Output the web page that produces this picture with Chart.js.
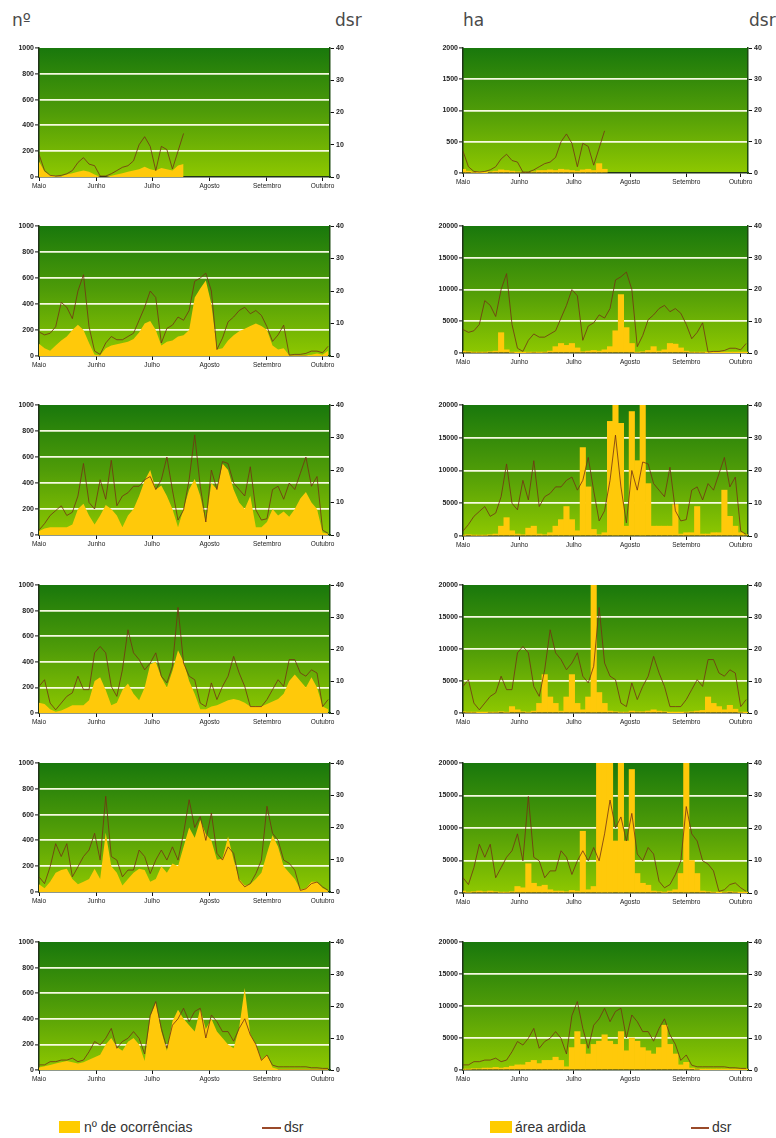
<!DOCTYPE html>
<html><head><meta charset="utf-8">
<script src="https://cdn.jsdelivr.net/npm/chart.js@4.4.1/dist/chart.umd.min.js"></script>
<style>
html,body{margin:0;padding:0;background:#fff}
body{width:776px;height:1138px;position:relative;overflow:hidden;font-family:'Liberation Sans',Arial,sans-serif}
.t{position:absolute;font-family:'DejaVu Sans',sans-serif;font-size:17px;line-height:17px;color:#4a4a4a}
.lg{position:absolute;font-size:14px;line-height:16px;color:#333;font-family:'Liberation Sans',Arial,sans-serif}
.sw{position:absolute;background:#ffcc00}
.ln{position:absolute;height:1.5px;background:#9a4a2a}
</style></head><body>
<div class="t" style="left:12px;top:12px">nº</div>
<div class="t" style="left:335px;top:12px">dsr</div>
<div class="t" style="left:463px;top:12px">ha</div>
<div class="t" style="left:749px;top:12px">dsr</div>

<div class="sw" style="left:59px;top:1121px;width:21px;height:12px"></div>
<div class="lg" style="left:84px;top:1119px">nº de ocorrências</div>
<div class="ln" style="left:262px;top:1127px;width:19px"></div>
<div class="lg" style="left:284px;top:1119px">dsr</div>
<div class="sw" style="left:490px;top:1121px;width:22px;height:12px"></div>
<div class="lg" style="left:515px;top:1119px">área ardida</div>
<div class="ln" style="left:691px;top:1127px;width:18px"></div>
<div class="lg" style="left:712px;top:1119px">dsr</div>

<script>
// ---------- data ----------
const days = [0,3,6,9,12,15,18,21,24,27,30,33,36,39,42,45,48,51,54,57,60,63,66,69,72,75,78,81,84,87,90,93,96,99,102,105,108,111,114,117,120,123,126,129,132,135,138,141,144,147,150,153,156];
const months = ['Maio','Junho','Julho','Agosto','Setembro','Outubro'];
const monthStart = [0,31,61,92,123,153];
const nTicks = [0,200,400,600,800,1000];
const haTicksSmall = [0,500,1000,1500,2000];
const haTicks = [0,5000,10000,15000,20000];
const dsrTicks = [0,10,20,30,40];

const dsr1 = [7,2,0.5,0.3,0.5,1,2,4.5,6,4,3.5,0.3,0.3,1,2,3,3.5,5,10,12.5,9.5,2,9.5,8.5,2.5,8,13.5];
const n1 = [120,40,15,5,5,20,30,40,50,40,20,0,0,10,20,30,40,50,60,80,60,50,70,60,50,90,100];
const ha1 = [60,30,10,5,5,20,30,50,40,30,20,0,0,20,40,40,50,40,60,50,40,30,50,60,40,150,60];

const dsr2 = [7.4,6.5,7,9,16.5,15,11.5,20,25,9,1.5,0.5,4,6,5,5,6,7,11,15,20,18,4,8.5,9.5,12,11,14,23,24,25.5,20,2,5.5,10.5,12,14,15,13,14,12.5,9,4.5,6.5,9.5,0.3,0.5,0.5,0.8,1.5,1.5,1,3];
const n2 = [95,60,40,80,120,150,200,240,200,100,10,5,60,80,90,100,110,130,180,250,270,200,80,110,120,150,160,200,450,520,580,400,50,60,120,160,190,210,230,250,230,200,80,50,60,5,5,5,5,10,20,10,40];
const ha2 = [300,200,100,100,100,200,300,3200,500,100,50,50,80,100,80,100,300,1000,1500,1200,1500,800,200,300,400,300,500,1000,3500,9200,4000,1500,100,200,400,1000,300,500,1500,1400,800,300,100,100,100,50,50,50,50,50,50,50,50];

const dsr3 = [1.5,3.5,6,7.5,9,6,7,12,22,10,8,17,11,23,9,12,13,15,15,17,18,14,17,24,13.8,4.6,7.7,17,30.8,15,4,20,14,22.6,22,16,14,12,21,7.7,4.6,5,14,15,11,16,14,19,24,15,18,1.5,0.5];
const n3 = [30,50,60,60,60,60,80,200,240,150,80,150,230,200,150,60,150,200,300,420,500,350,380,300,200,60,200,350,430,300,100,400,350,550,500,350,250,200,300,60,60,100,200,150,180,140,200,280,330,250,200,20,10];
const ha3 = [100,200,100,100,100,200,300,1500,2800,800,300,200,1200,1500,300,200,500,1500,2500,4500,2500,800,13500,7500,1000,200,500,17500,25000,17200,1500,19000,11500,25000,8000,1500,1500,1500,1500,4800,300,500,500,4500,300,300,500,500,7000,3000,1500,500,200];

const dsr4 = [8.3,10.4,3.1,1,3.1,5.2,6.3,11.5,7.3,7.3,18.8,20.8,18.8,8.3,5.2,13.5,26,18.8,16.7,13.5,15.6,18.8,11.5,9.4,14.6,33,15.6,11.5,10.4,3.1,2,9.4,4.2,8.3,11.5,17.7,12.5,8.3,2,2,2,4.2,7.3,10.4,8.3,16.7,16.7,12.5,11.5,13.5,12.5,2,4.2];
const n4 = [80,70,30,10,20,40,60,60,60,100,250,280,180,60,80,180,230,150,100,200,380,400,280,200,330,490,400,250,150,30,30,50,60,80,100,110,100,80,50,50,50,70,90,110,150,250,300,250,200,280,200,50,30];
const ha4 = [200,100,100,50,50,100,100,200,100,1000,500,200,100,300,1500,6000,2500,1500,300,2500,6000,1500,500,2500,25000,3200,1500,300,200,100,100,300,200,200,300,500,300,200,50,50,50,100,200,300,400,2500,1500,1000,500,1200,600,100,50];

const dsr5 = [4.7,2.6,7.8,15,11,15,4.7,7.8,11,13,18.2,9.9,29.7,11,9.9,4.7,6.8,6.8,13,11,5.7,9.9,13,9.9,14,9.9,18.2,28.6,20,23.4,16,24.5,12,9.9,14,12,3.6,1.6,2.6,5.7,9.9,26.6,18.2,16,9.9,8.9,6.8,0.5,1,2.6,3.1,1.6,0.5];
const n5 = [60,30,80,150,170,180,100,60,80,100,180,100,460,200,150,50,100,150,180,170,80,100,200,150,220,200,350,500,420,560,450,400,250,260,430,250,100,50,60,100,150,300,440,350,200,150,100,20,30,80,80,30,10];
const ha5 = [300,100,200,300,200,300,200,100,100,200,1000,800,4500,1500,1000,1200,500,300,300,200,400,300,9500,500,1000,25000,25000,25000,8000,25000,8000,19000,3000,1500,1200,300,200,100,300,500,3000,25000,5000,3000,300,200,100,50,100,200,100,50,50];

const dsr6 = [1.6,1.6,2.6,2.6,3.1,3.1,3.7,2.6,3.1,5.7,8.9,7.8,9.9,13,6.8,8.9,9.9,12,9.9,5,17,21.4,13,6.8,14,16,19.3,15.1,18.3,19.3,10,17.2,15.1,12,12,9,13,16,11,8,3,4.7,1.5,1,1,1,1,1,1,0.7,0.7,0.5,0.5];
const n6 = [20,30,40,50,60,70,60,50,60,80,100,120,200,250,180,150,220,250,200,70,420,530,300,150,380,470,400,350,300,480,320,400,300,250,200,170,330,640,280,200,80,120,20,5,5,5,5,5,5,5,5,5,5];
const ha6 = [100,100,200,200,300,300,400,300,400,600,800,800,1200,1500,1000,1500,1500,2000,1500,500,3500,6000,4000,2500,4000,4500,5500,4500,4000,6000,3000,5000,4500,3500,3000,2500,3500,7000,4000,2500,800,1200,300,100,50,50,50,50,50,50,50,50,50];

// ---------- layout ----------
const LEFT = {canvasX:0, canvasW:372, plotL:39, plotR:330,
  tops:[48,226,405,585,763,942], bottoms:[177,356,535,713,892,1070]};
const RIGHT = {canvasX:398, canvasW:378, plotL:463, plotR:748,
  tops:[48,226,405,585,763,942], bottoms:[173,353,536,713,893,1070]};
const PAD_T = 8, X_H = 18;
const YELLOW = '#ffc90a';
const DSR_COLOR = 'rgba(115,50,20,0.8)';
const AXIS_COLOR = '#1f3318';

const bgPlugin = {
  id:'bg',
  beforeDraw(chart){
    const {ctx, chartArea:a} = chart;
    const g = ctx.createLinearGradient(0,a.top,0,a.bottom);
    g.addColorStop(0,'#19780c');
    g.addColorStop(0.5,'#4f9c08');
    g.addColorStop(1,'#8ec800');
    ctx.save(); ctx.fillStyle = g; ctx.fillRect(a.left,a.top,a.width,a.height); ctx.restore();
  }
};

const panels = [
  {col:'L',row:0,vals:n1,dsr:dsr1,yt:nTicks},
  {col:'R',row:0,vals:ha1,dsr:dsr1,yt:haTicksSmall},
  {col:'L',row:1,vals:n2,dsr:dsr2,yt:nTicks},
  {col:'R',row:1,vals:ha2,dsr:dsr2,yt:haTicks},
  {col:'L',row:2,vals:n3,dsr:dsr3,yt:nTicks},
  {col:'R',row:2,vals:ha3,dsr:dsr3,yt:haTicks},
  {col:'L',row:3,vals:n4,dsr:dsr4,yt:nTicks},
  {col:'R',row:3,vals:ha4,dsr:dsr4,yt:haTicks},
  {col:'L',row:4,vals:n5,dsr:dsr5,yt:nTicks},
  {col:'R',row:4,vals:ha5,dsr:dsr5,yt:haTicks},
  {col:'L',row:5,vals:n6,dsr:dsr6,yt:nTicks},
  {col:'R',row:5,vals:ha6,dsr:dsr6,yt:haTicks}
];

function buildChart(p){
  const c = p.col==='L' ? LEFT : RIGHT;
  const top = c.tops[p.row]-PAD_T;
  const h = c.bottoms[p.row]-c.tops[p.row]+PAD_T+X_H;
  const cv = document.createElement('canvas');
  cv.width = c.canvasW; cv.height = h;
  cv.style.cssText = `position:absolute;left:${c.canvasX}px;top:${top}px;width:${c.canvasW}px;height:${h}px`;
  document.body.appendChild(cv);
  const yMax = p.yt[p.yt.length-1];
  const pts = arr => arr.map((v,i)=>({x:days[i], y:v}));
  const yellow = p.col==='L'
    ? {type:'line', data:pts(p.vals), yAxisID:'y', fill:'origin', backgroundColor:YELLOW,
       borderWidth:0, pointRadius:0, tension:0, order:2}
    : {type:'bar', data:pts(p.vals), yAxisID:'y', backgroundColor:YELLOW,
       barPercentage:1, categoryPercentage:1, order:2};
  const line = {type:'line', data:pts(p.dsr), yAxisID:'y2', borderColor:DSR_COLOR, borderWidth:1,
    pointRadius:0, fill:false, tension:0, order:1};
  const tickFont = {family:"'Liberation Sans', Arial, sans-serif", size:7, weight:'bold'};
  new Chart(cv, {
    type: p.col==='L' ? 'line' : 'bar',
    data:{datasets:[yellow, line]},
    options:{
      responsive:false, animation:false, devicePixelRatio:1,
      layout:{padding:{top:PAD_T,left:0,right:0,bottom:0}},
      plugins:{legend:{display:false}, tooltip:{enabled:false}},
      scales:{
        x:{type:'linear', min:0, max:157, offset:false,
           afterBuildTicks:s=>{ s.ticks = monthStart.map(v=>({value:v})); },
           afterFit:s=>{ s.height = X_H; },
           ticks:{callback:(v,i)=>months[i], font:{family:tickFont.family,size:6.5}, color:'#222',
                  padding:1, maxRotation:0, autoSkip:false},
           grid:{drawOnChartArea:false, offset:false, tickColor:'#111', tickLength:4, tickWidth:1},
           border:{color:AXIS_COLOR, width:1.5}},
        y:{position:'left', min:0, max:yMax,
           afterBuildTicks:s=>{ s.ticks = p.yt.map(v=>({value:v})); },
           afterFit:s=>{ s.width = c.plotL - c.canvasX; },
           ticks:{callback:v=>String(v), font:tickFont, color:'#222', padding:1},
           grid:{color:ctx=>(ctx.tick && ctx.tick.value>0 && ctx.tick.value<yMax) ? 'rgba(255,255,235,0.95)' : 'rgba(0,0,0,0)',
                 lineWidth:1.8, tickColor:'#111', tickLength:4, tickWidth:1},
           border:{color:AXIS_COLOR, width:1.5}},
        y2:{position:'right', min:0, max:40,
           afterBuildTicks:s=>{ s.ticks = dsrTicks.map(v=>({value:v})); },
           afterFit:s=>{ s.width = c.canvasX + c.canvasW - c.plotR; },
           ticks:{callback:v=>String(v), font:tickFont, color:'#222', padding:2},
           grid:{drawOnChartArea:false, tickColor:'#111', tickLength:4, tickWidth:1},
           border:{color:'#1d4a10', width:1.5}}
      }
    },
    plugins:[bgPlugin]
  });
}
panels.forEach(buildChart);
</script>
</body></html>
